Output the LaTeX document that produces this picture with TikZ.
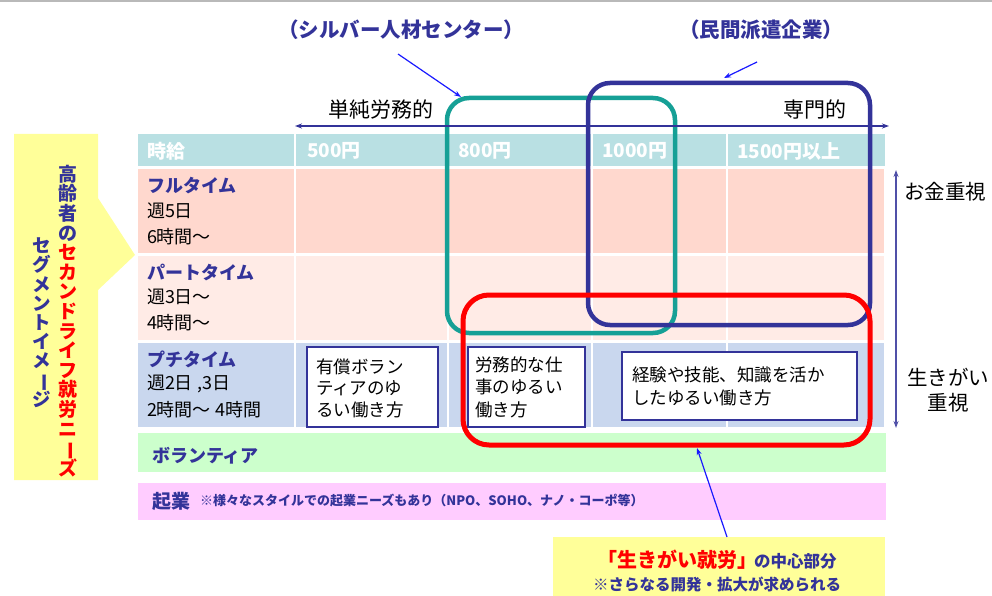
\documentclass[tikz,border=0pt]{standalone}
\usepackage{fontspec}
\usepackage{graphicx}
\setmainfont{Noto Sans CJK JP}
\usetikzlibrary{arrows.meta}
\definecolor{jblue}{HTML}{333399}
\definecolor{hdr}{HTML}{B9E0E3}
\definecolor{rowa}{HTML}{FFD8CE}
\definecolor{rowb}{HTML}{FFEBE6}
\definecolor{rowc}{HTML}{C9D7EE}
\definecolor{grn}{HTML}{CCFFCC}
\definecolor{pnk}{HTML}{FFCCFF}
\definecolor{yel}{HTML}{FFFF99}
\definecolor{tealc}{HTML}{16A096}
\definecolor{arrb}{HTML}{1A1AFF}
\definecolor{varr}{HTML}{5050A8}
\newcommand\fs[1]{\fontsize{#1}{#1}\selectfont}
\newcommand\vbarj{\smash{\rotatebox[origin=c]{-90}{ー}}}
\newcommand\Bj[1]{\textcolor{jblue}{#1}}
\begin{document}
\begin{tikzpicture}[x=1pt,y=-1pt,
  txt/.style={inner sep=0pt, outer sep=0pt},
  hd/.style={txt, anchor=west, text=white, font=\bfseries\fs{19}},
  lblb/.style={txt, anchor=west, text=jblue, font=\bfseries\fs{18}},
  lbl/.style={txt, anchor=west, text=black, font=\fs{18}},
  vt/.style={txt, align=center, anchor=north},
  wbox/.style={draw=jblue, line width=1.5pt, fill=white, inner sep=0pt},
  btxt/.style={txt, anchor=west, align=left, text=black},
  callarr/.style={draw=arrb, line width=1.2pt, -{Stealth[length=7pt,width=5pt]}},
  callt/.style={txt, text=jblue, font=\bfseries\fs{20.5}}
]
\useasboundingbox (0,0) rectangle (992,596);
\fill[white] (0,0) rectangle (992,596);
\fill[gray!55] (0,0) rectangle (992,2.5);

% left yellow arrow shape
\fill[yel] (14,134) -- (98,134) -- (98,198) -- (135,255) -- (98,290) -- (98,480) -- (14,480) -- cycle;
\node[vt, text=red, font=\bfseries\fontsize{19}{19.6}\selectfont] (v1) at (68,165)
  {\Bj{高}\\\Bj{齢}\\\Bj{者}\\\Bj{の}\\セ\\カ\\ン\\ド\\ラ\\イ\\フ\\就\\労\\ニ\\\vbarj\\ズ};
\node[vt, text=jblue, font=\bfseries\fontsize{18.5}{19.2}\selectfont] (v2) at (42,238)
  {セ\\グ\\メ\\ン\\ト\\イ\\メ\\\vbarj\\ジ};

% table backgrounds
\fill[hdr] (138,134) rectangle (885,166);
\fill[rowa] (138,169) rectangle (884,253);
\fill[rowb] (138,256) rectangle (884,340);
\fill[rowc] (138,343) rectangle (884,427);
\fill[grn] (138,433) rectangle (886,472);
\fill[pnk] (138,483) rectangle (886,520);
\foreach \xx in {295,448,592,727}{
  \draw[white, line width=2pt] (\xx,134) -- (\xx,427);
}

% header texts
\node[hd] (h0) at (147,151) {時給};
\node[hd] (h1) at (307,151) {500円};
\node[hd] (h2) at (458,151) {800円};
\node[hd] (h3) at (602,151) {1000円};
\node[hd] (h4) at (737,151) {1500円以上};

% row labels
\node[lblb] (r1a) at (147,186) {フルタイム};
\node[lbl]  (r1b) at (147,211) {週5日};
\node[lbl]  (r1c) at (147,237) {6時間～};
\node[lblb] (r2a) at (147,272) {パートタイム};
\node[lbl]  (r2b) at (147,297) {週3日～};
\node[lbl]  (r2c) at (147,323) {4時間～};
\node[lblb] (r3a) at (147,359) {プチタイム};
\node[lbl]  (r3b) at (147,384) {週2日 ,3日};
\node[lbl]  (r3c) at (147,410) {2時間～ 4時間};
\node[lblb] (vol) at (152,456) {ボランティア};
\node[lblb, font=\bfseries\fs{19}] (kig) at (152,501) {起業};
\node[txt, anchor=west, text=jblue, font=\bfseries\fs{13}] (kign) at (200,501)
  {※様々なスタイルでの起業ニーズもあり（NPO、SOHO、ナノ・コーポ等）};

% white boxes
\node[wbox, minimum width=131pt, minimum height=80pt] (b1) at (372.5,387) {};
\node[btxt, font=\fontsize{17.5}{21.5}\selectfont] (b1t) at (316,388) {有償ボラン\\ティアのゆ\\るい働き方};
\node[wbox, minimum width=117pt, minimum height=80pt] (b2) at (526.5,387) {};
\node[btxt, font=\fontsize{17.5}{22.5}\selectfont] (b2t) at (475,387) {労務的な仕\\事のゆるい\\働き方};
\node[wbox, minimum width=235pt, minimum height=68pt] (b3) at (739.5,386) {};
\node[btxt, font=\fontsize{17.5}{23}\selectfont] (b3t) at (632,386) {経験や技能、知識を活か\\したゆるい働き方};

% rounded frames
\draw[tealc, line width=4.5pt, rounded corners=22pt] (447,98) rectangle (675,333);
\draw[jblue, line width=4.5pt, rounded corners=22pt] (588,83) rectangle (870,325);
\draw[red, line width=5pt, rounded corners=26pt] (463,295) rectangle (870,445);

% axis arrows
\node[txt, font=\fs{21}] (tan) at (381,110) {単純労務的};
\node[txt, font=\fs{21}] (sen) at (815,110) {専門的};
\coordinate (hL) at (295,126);
\coordinate (hR) at (889,126);
\draw[jblue, line width=1.2pt, {Stealth[length=7pt,width=5pt]}-{Stealth[length=7pt,width=5pt]}] (hL) -- (hR);

\coordinate (vT) at (896,170);
\coordinate (vB) at (896,428);
\draw[varr, line width=1.5pt, {Stealth[length=7pt,width=5pt]}-{Stealth[length=7pt,width=5pt]}] (vT) -- (vB);
\node[txt, anchor=west, font=\fs{20.5}] (okn) at (904,192) {お金重視};
\node[txt, font=\fs{20.5}] (ikg) at (948,377) {生きがい};
\node[txt, font=\fs{20.5}] (jus) at (948,403) {重視};

% callouts
\node[callt] (c1) at (401,30) {（シルバー人材センター）};
\node[callt] (c2) at (761,30) {（民間派遣企業）};
\coordinate (c1s) at (398,54);
\coordinate (c1e) at (461,97);
\draw[callarr] (c1s) -- (c1e);
\coordinate (c2s) at (757,62);
\coordinate (c2e) at (724,78);
\draw[callarr] (c2s) -- (c2e);

% bottom yellow box
\node[fill=yel, inner sep=0pt, minimum width=332pt, minimum height=62pt, anchor=north west] (yb) at (553,537) {};
\node[txt, text=jblue, font=\bfseries] (yt1) at (717,560) {\textcolor{red}{\fs{20}「生きがい就労」}\kern-0.35em\fs{16.5}の中心部分};
\node[txt, text=jblue, font=\bfseries\fs{15.5}] (yt2) at (717,584) {※さらなる開発・拡大が求められる};
\coordinate (ya) at (727,537);
\coordinate (rb) at (697,448);
\draw[callarr] (ya) -- (rb);
\end{tikzpicture}
\end{document}
